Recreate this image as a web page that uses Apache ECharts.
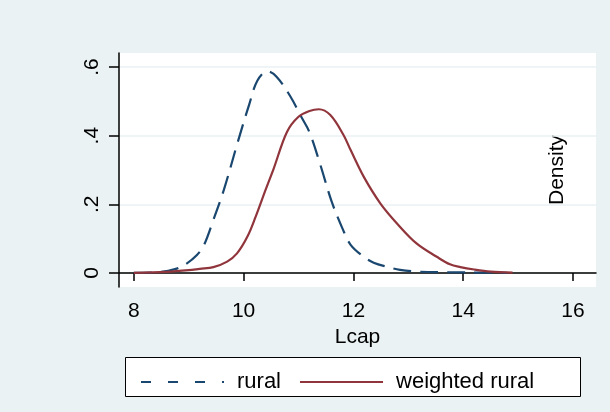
<!DOCTYPE html>
<html>
<head>
<meta charset="utf-8">
<script src="https://cdn.jsdelivr.net/npm/echarts@6/dist/echarts.min.js"></script>
<style>
  html, body { margin: 0; padding: 0; background: #eaf2f3; }
  #chart { width: 610px; height: 412px; }
</style>
</head>
<body>
<div id="chart"></div>
<script>
// kernel density estimates
const ruralX = [8.0, 8.5, 8.75, 8.95, 9.15, 9.28, 9.45, 9.64, 9.9, 10.1, 10.25, 10.43, 10.6, 10.85, 11.05, 11.2, 11.4, 11.6, 11.8, 11.95, 12.19, 12.37, 12.61, 12.85, 13.15, 13.7, 14.3, 14.8]
const ruralY = [0, 0.003, 0.011, 0.026, 0.052, 0.082, 0.155, 0.242, 0.385, 0.49, 0.56, 0.588, 0.572, 0.515, 0.455, 0.41, 0.314, 0.21, 0.13, 0.082, 0.047, 0.030, 0.018, 0.009, 0.004, 0.002, 0.001, 0]
const weightedX = [8.0, 8.6, 9.0, 9.2, 9.45, 9.7, 9.88, 10.07, 10.22, 10.4, 10.55, 10.79, 11.0, 11.2, 11.37, 11.58, 11.82, 11.95, 12.19, 12.49, 12.79, 13.15, 13.52, 13.76, 13.95, 14.2, 14.5, 14.9]
const weightedY = [0, 0.003, 0.008, 0.012, 0.017, 0.033, 0.057, 0.106, 0.164, 0.242, 0.305, 0.411, 0.455, 0.472, 0.477, 0.46, 0.402, 0.358, 0.28, 0.203, 0.145, 0.086, 0.047, 0.025, 0.017, 0.01, 0.004, 0.001]
const xTicks = [8, 10, 12, 14, 16]
const yTicks = [0, 0.2, 0.4, 0.6]
const yTickLabels = ['0', '.2', '.4', '.6']

const font = 'Liberation Sans, Arial, sans-serif'
const pairs = (xs, ys) => xs.map((x, i) => [x, ys[i]])

const chart = echarts.init(document.getElementById('chart'))
chart.setOption({
  backgroundColor: '#eaf2f3',
  animation: false,
  textStyle: { fontFamily: font },
  grid: {
    left: 119,
    right: 14,
    top: 53,
    bottom: 125,
    show: true,
    backgroundColor: '#ffffff',
    borderWidth: 0
  },
  xAxis: {
    type: 'value',
    min: 7.73,
    max: 16.42,
    name: 'Lcap',
    nameLocation: 'middle',
    nameGap: 35,
    nameTextStyle: { color: '#000', fontSize: 21, fontFamily: font },
    axisLine: { show: true, lineStyle: { color: '#000', width: 1.5 } },
    axisTick: { show: true, length: 8, customValues: xTicks, lineStyle: { color: '#000', width: 1.5 } },
    axisLabel: { customValues: xTicks, margin: 14, color: '#000', fontSize: 21, fontFamily: font },
    splitLine: { show: false }
  },
  yAxis: {
    type: 'value',
    min: -0.041,
    max: 0.641,
    axisLine: { show: true, lineStyle: { color: '#000', width: 1.5 } },
    axisTick: { show: true, length: 10, customValues: yTicks, lineStyle: { color: '#000', width: 1.5 } },
    axisLabel: {
      customValues: yTicks,
      rotate: 90,
      margin: 16,
      color: '#000',
      fontSize: 21,
      fontFamily: font,
      formatter: v => yTickLabels[yTicks.findIndex(t => Math.abs(t - v) < 1e-6)] ?? ''
    },
    splitLine: { show: true, lineStyle: { color: '#eaf2f3', width: 1.5 } }
  },
  legend: {
    left: 135,
    top: 366,
    itemWidth: 83,
    itemHeight: 20,
    itemGap: 18,
    itemStyle: { opacity: 0 },
    textStyle: { color: '#000', fontSize: 22, fontFamily: font, padding: [0, 0, 0, 8] },
    data: [
      { name: 'rural', lineStyle: { type: [10, 17] } },
      { name: 'weighted rural' }
    ]
  },
  graphic: [
    {
      type: 'rect',
      z: -1,
      shape: { x: 125.5, y: 357.5, width: 455, height: 39 },
      style: { fill: '#ffffff', stroke: '#000', lineWidth: 1 }
    },
    {
      type: 'text',
      x: 557,
      y: 170,
      rotation: Math.PI / 2,
      style: {
        text: 'Density',
        fontSize: 21,
        fontFamily: font,
        fill: '#000',
        align: 'center',
        verticalAlign: 'middle'
      }
    }
  ],
  series: [
    {
      name: 'rural',
      type: 'line',
      smooth: 0.35,
      symbol: 'none',
      data: pairs(ruralX, ruralY),
      lineStyle: { color: '#1a476f', width: 2.2, type: [18, 9] },
      itemStyle: { color: '#1a476f' }
    },
    {
      name: 'weighted rural',
      type: 'line',
      smooth: 0.35,
      symbol: 'none',
      data: pairs(weightedX, weightedY),
      lineStyle: { color: '#90353b', width: 2.2 },
      itemStyle: { color: '#90353b' }
    }
  ]
})
</script>
</body>
</html>
